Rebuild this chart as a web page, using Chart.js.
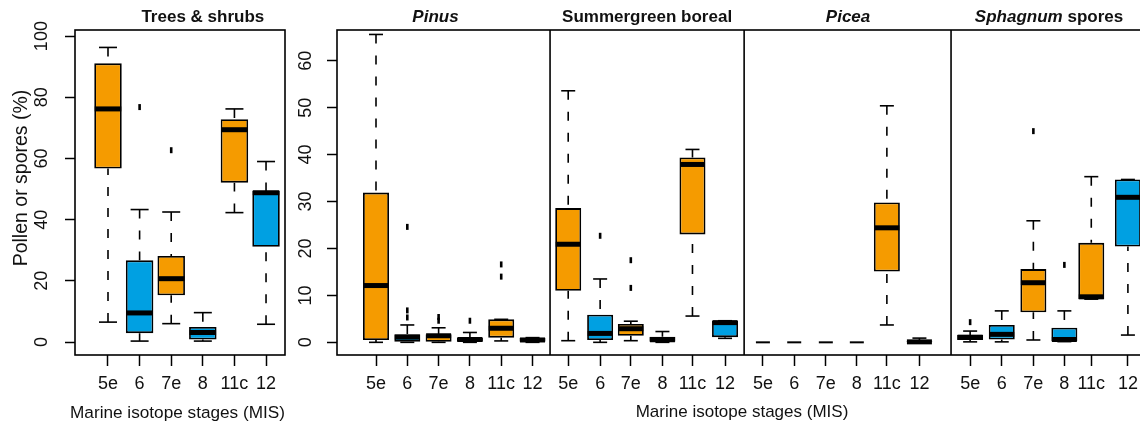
<!DOCTYPE html>
<html>
<head>
<meta charset="utf-8">
<script src="https://cdn.jsdelivr.net/npm/chart.js@4.4.1/dist/chart.umd.min.js"></script>
<style>
html,body{margin:0;padding:0;background:#fff;width:1140px;height:424px;overflow:hidden;position:relative}
canvas{position:absolute;top:0}
#cTrees{left:0}
#cOthers{left:280px}
</style>
</head>
<body>
<canvas id="cTrees" width="290" height="424"></canvas>
<canvas id="cOthers" width="880" height="424"></canvas>
<script>
// ---------------- DATA ----------------
const stages = ['5e', '6', '7e', '8', '11c', '12'];
const isGlacial = [false, true, false, true, false, true];
const yTicksTrees = [0, 20, 40, 60, 80, 100];
const yTicksOthers = [0, 10, 20, 30, 40, 50, 60];
const yAxisTitle = 'Pollen or spores (%)';
const xAxisTitle = 'Marine isotope stages (MIS)';

// each row: [lower whisker, Q1, median, Q3, upper whisker]
const treesShrubs = [
  [6.5, 56.7, 76.2, 91.1, 96.3],
  [0.3, 2.9, 9.5, 26.7, 43.3],
  [6.0, 15.3, 20.7, 28.1, 42.5],
  [0.3, 0.8, 3.1, 4.9, 9.6],
  [42.3, 52.1, 69.4, 72.8, 76.2],
  [5.8, 31.1, 48.8, 49.4, 59.0]
];
const treesShrubsOutliers = [[], [76.8], [62.7], [], [], []];

const pinus = [
  [0, 0.5, 12.1, 31.9, 65.6],
  [0, 0, 1.1, 1.7, 3.7],
  [0, 0.1, 1.4, 1.7, 3.1],
  [0, 0, 0.6, 1.0, 2.1],
  [0.3, 1.0, 3.0, 4.9, 4.9],
  [0, 0, 0.5, 1.0, 1.0]
];
const pinusOutliers = [[], [24.6, 6.8, 5.3], [5.4, 4.6], [4.6], [16.6, 14.0], []];

const summergreen = [
  [0.35, 11.0, 20.9, 28.6, 53.6],
  [0, 0.5, 1.9, 5.9, 13.5],
  [0.35, 1.4, 2.9, 3.9, 4.5],
  [0, 0, 0.55, 1.2, 2.3],
  [5.6, 23.0, 37.9, 39.4, 41.1],
  [0.85, 1.1, 4.2, 4.6, 4.6]
];
const summergreenOutliers = [[], [22.7], [17.5, 11.6], [], [], []];

const picea = [
  [0, 0, 0, 0, 0],
  [0, 0, 0, 0, 0],
  [0, 0, 0, 0, 0],
  [0, 0, 0, 0, 0],
  [3.7, 15.1, 24.4, 29.8, 50.4],
  [0, 0, 0.1, 0.35, 0.9]
];
const piceaOutliers = [[], [], [], [], [], []];

const sphagnum = [
  [0.1, 0.5, 1.1, 1.55, 2.4],
  [0.1, 0.6, 1.7, 3.7, 6.7],
  [0.5, 6.4, 12.7, 15.6, 25.9],
  [0.15, 0.3, 0.6, 3.1, 6.7],
  [9.2, 9.2, 9.7, 21.2, 35.3],
  [1.55, 20.4, 30.9, 34.7, 34.7]
];
const sphagnumOutliers = [[4.3], [], [45.0], [16.5], [], []];

// ---------------- LAYOUT / STYLE ----------------
const ORANGE = '#F59B00';
const BLUE = '#00A0E2';
const TXT = '#111';
const FONT = '"Liberation Sans", Arial, Helvetica, sans-serif';

const leftPos = [1, 2, 3, 4, 5, 6];
const rightPos = [
  [1, 2, 3, 4, 5, 6],
  [7.14, 8.16, 9.14, 10.15, 11.11, 12.15],
  [13.36, 14.36, 15.37, 16.36, 17.32, 18.36],
  [19.98, 20.99, 22.0, 22.99, 23.85, 25.02]
];
const separators = [6.56, 12.76, 19.37];
const rightTitleAt = [2.9, 9.66, 16.08, 22.5];
const leftTitleAt = 4.0;

function boxDatasets(groups, o) {
  const boxes = [], boxColors = [], meds = [], medW = [], medR = [], whisk = [], caps = [], outs = [];
  groups.forEach(g => g.stats.forEach((s, i) => {
    const x = g.pos[i];
    const flat = (s[3] - s[1]) <= 0;
    boxes.push({x: x, y: [s[1], s[3]]});
    boxColors.push(isGlacial[i] ? BLUE : ORANGE);
    meds.push({x: x, y: s[2]});
    medW.push(flat ? 2 : 5);
    medR.push(flat ? 7 : o.boxW / 2 - 0.5);
    whisk.push({x: x, y: s[4]}, {x: x, y: s[3]}, {x: x, y: null},
               {x: x, y: s[0]}, {x: x, y: s[1]}, {x: x, y: null});
    if (!flat) caps.push({x: x, y: s[4]}, {x: x, y: s[0]});
    g.outs[i].forEach(v => outs.push({x: x, y: v}));
  }));
  return [
    {type: 'line', data: whisk, borderColor: '#000', borderWidth: 1.6, borderDash: [9, 12],
     pointRadius: 0, spanGaps: false, fill: false, tension: 0, order: 4},
    {type: 'bar', data: boxes, backgroundColor: boxColors, borderColor: '#000', borderWidth: 1.8,
     borderSkipped: false, barThickness: o.boxW, inflateAmount: 0, order: 3},
    {type: 'scatter', data: caps, pointStyle: 'line', pointRadius: o.capR, pointBorderWidth: 1.6,
     pointBorderColor: '#000', pointBackgroundColor: '#000', order: 2},
    {type: 'scatter', data: meds, pointStyle: 'line', pointRadius: medR, pointBorderWidth: medW,
     pointBorderColor: '#000', pointBackgroundColor: '#000', order: 1},
    {type: 'scatter', data: outs, pointStyle: 'line', pointRotation: 90, pointRadius: 3,
     pointBorderWidth: 2.6, pointBorderColor: '#000', pointBackgroundColor: '#000', order: 0}
  ];
}

function xAxis(min, max, positions, labels, showTitle) {
  return {
    type: 'linear', min: min, max: max, offset: false,
    afterBuildTicks: s => { s.ticks = positions.map(v => ({value: v})); },
    afterFit: s => { s.height = 69; s.paddingLeft = 0; s.paddingRight = 0; },
    grid: {drawOnChartArea: false, drawTicks: true, tickLength: 11, tickWidth: 1.5, tickColor: '#000', offset: false},
    border: {display: false},
    ticks: {autoSkip: false, maxRotation: 0, minRotation: 0, padding: 7, color: TXT,
            font: {family: FONT, size: 18}, callback: (v, i) => labels[i % labels.length]},
    title: {display: showTitle, text: xAxisTitle, color: TXT, font: {family: FONT, size: 17},
            padding: {top: 0, bottom: 1}}
  };
}
function yAxis(min, max, ticksArr, width, pad) {
  return {
    type: 'linear', min: min, max: max,
    afterBuildTicks: s => { s.ticks = ticksArr.map(v => ({value: v})); },
    afterFit: s => { s.width = width; s.paddingTop = 0; s.paddingBottom = 0; },
    grid: {drawOnChartArea: false, drawTicks: true, tickLength: 10, tickWidth: 1.5, tickColor: '#000'},
    border: {display: false},
    ticks: {minRotation: 90, maxRotation: 90, crossAlign: 'center', padding: pad, color: TXT,
            font: {family: FONT, size: 18}}
  };
}

function drawFrame(chart, seps) {
  const {ctx, chartArea: a, scales} = chart;
  ctx.save();
  ctx.strokeStyle = '#000';
  ctx.lineWidth = 1.6;
  ctx.strokeRect(a.left, a.top, a.right - a.left, a.bottom - a.top);
  (seps || []).forEach(v => {
    const px = scales.x.getPixelForValue(v);
    ctx.beginPath(); ctx.moveTo(px, a.top); ctx.lineTo(px, a.bottom); ctx.stroke();
  });
  ctx.restore();
}
function drawTitleParts(ctx, cx, y, parts) {
  ctx.save();
  ctx.fillStyle = TXT;
  ctx.textBaseline = 'alphabetic';
  ctx.textAlign = 'left';
  let total = 0;
  parts.forEach(p => { ctx.font = p.font; p.w = ctx.measureText(p.text).width; total += p.w; });
  let x = cx - total / 2;
  parts.forEach(p => { ctx.font = p.font; ctx.fillText(p.text, x, y); x += p.w; });
  ctx.restore();
}
const BOLD = 'bold 17px ' + FONT;
const BOLDIT = 'italic bold 17px ' + FONT;

// ---------------- LEFT CHART ----------------
new Chart(document.getElementById('cTrees'), {
  type: 'scatter',
  data: {datasets: boxDatasets([{stats: treesShrubs, outs: treesShrubsOutliers, pos: leftPos}], {boxW: 27.5, capR: 9})},
  options: {
    responsive: false, animation: false, devicePixelRatio: 1,
    layout: {autoPadding: false, padding: {left: 0, right: 5, top: 30, bottom: 0}},
    plugins: {legend: {display: false}, tooltip: {enabled: false}},
    scales: {
      x: xAxis(-0.044, 6.6, leftPos, stages, false),
      y: yAxis(-4.25, 102, yTicksTrees, 75, 8)
    }
  },
  plugins: [{
    id: 'decor',
    afterDraw(chart) {
      drawFrame(chart, []);
      const ctx = chart.ctx;
      drawTitleParts(ctx, chart.scales.x.getPixelForValue(leftTitleAt), 22, [{text: 'Trees & shrubs', font: BOLD}]);
      ctx.save();
      ctx.fillStyle = TXT;
      ctx.textAlign = 'center';
      ctx.textBaseline = 'middle';
      ctx.font = '17.2px ' + FONT;
      ctx.fillText(xAxisTitle, 177.5, 413);
      ctx.translate(22, 178);
      ctx.rotate(-Math.PI / 2);
      ctx.font = '19.5px ' + FONT;
      ctx.fillText(yAxisTitle, 0, 0);
      ctx.restore();
    }
  }]
});

// ---------------- RIGHT CHART ----------------
const rightGroups = [
  {stats: pinus, outs: pinusOutliers, pos: rightPos[0]},
  {stats: summergreen, outs: summergreenOutliers, pos: rightPos[1]},
  {stats: picea, outs: piceaOutliers, pos: rightPos[2]},
  {stats: sphagnum, outs: sphagnumOutliers, pos: rightPos[3]}
];
const rightTickPos = [].concat(...rightPos);
const rightTickLabels = [].concat(stages, stages, stages, stages);

new Chart(document.getElementById('cOthers'), {
  type: 'scatter',
  data: {datasets: boxDatasets(rightGroups, {boxW: 26, capR: 7})},
  options: {
    responsive: false, animation: false, devicePixelRatio: 1,
    layout: {autoPadding: false, padding: {left: 0, right: 13, top: 30, bottom: 0}},
    plugins: {legend: {display: false}, tooltip: {enabled: false}},
    scales: {
      x: xAxis(-0.246, 25.63, rightTickPos, rightTickLabels, true),
      y: yAxis(-2.7, 66.55, yTicksOthers, 57, 11)
    }
  },
  plugins: [{
    id: 'decor',
    afterDraw(chart) {
      drawFrame(chart, separators);
      const ctx = chart.ctx, sx = chart.scales.x;
      drawTitleParts(ctx, sx.getPixelForValue(rightTitleAt[0]), 22, [{text: 'Pinus', font: BOLDIT}]);
      drawTitleParts(ctx, sx.getPixelForValue(rightTitleAt[1]), 22, [{text: 'Summergreen boreal', font: BOLD}]);
      drawTitleParts(ctx, sx.getPixelForValue(rightTitleAt[2]), 22, [{text: 'Picea', font: BOLDIT}]);
      drawTitleParts(ctx, sx.getPixelForValue(rightTitleAt[3]), 22, [{text: 'Sphagnum', font: BOLDIT}, {text: ' spores', font: BOLD}]);
    }
  }]
});
</script>
</body>
</html>
